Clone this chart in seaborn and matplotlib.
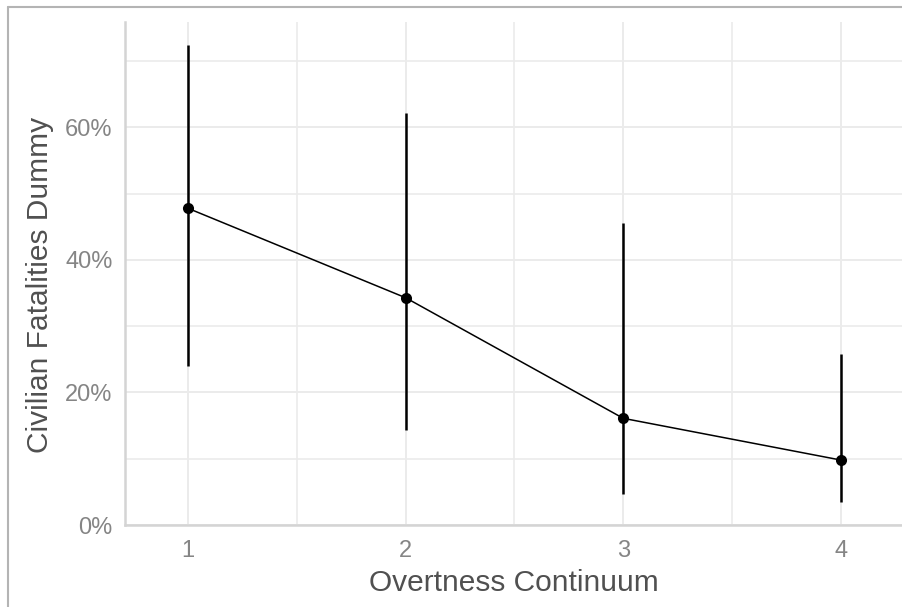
import matplotlib
matplotlib.use("Agg")
import matplotlib.pyplot as plt
import seaborn as sns
import pandas as pd
from matplotlib.ticker import FuncFormatter, MultipleLocator
from matplotlib.lines import Line2D

overtness = [1, 2, 3, 4]
fatality_mean = [0.478, 0.343, 0.161, 0.098]
fatality_low = [0.240, 0.143, 0.047, 0.035]
fatality_high = [0.725, 0.622, 0.456, 0.258]

df = pd.DataFrame({"x": overtness, "y": fatality_mean,
                   "lo": fatality_low, "hi": fatality_high})

sns.set_theme(style="white")
plt.rcParams["font.family"] = ["Liberation Sans", "DejaVu Sans"]

fig = plt.figure(figsize=(9.02, 6.07), dpi=100)
ax = fig.add_axes([125/902, 82/607, 777/902, 503/607])

# grid
ax.set_axisbelow(True)
ax.xaxis.set_major_locator(MultipleLocator(1))
ax.xaxis.set_minor_locator(MultipleLocator(0.5))
ax.yaxis.set_major_locator(MultipleLocator(0.2))
ax.yaxis.set_minor_locator(MultipleLocator(0.1))
ax.grid(which="major", color="#ebebeb", linewidth=1.4)
ax.grid(which="minor", color="#ebebeb", linewidth=1.2)

ax.vlines(df["x"], df["lo"], df["hi"], color="black", linewidth=1.8, zorder=3)
sns.lineplot(data=df, x="x", y="y", color="black", linewidth=1.1,
             marker="o", markersize=8, markeredgewidth=0, ax=ax, zorder=4)

ax.set_xlim(0.7106, 4.2805)
ax.set_ylim(0, 0.7592)
ax.set_xticks(overtness)
ax.set_yticks([0, 0.2, 0.4, 0.6])
ax.yaxis.set_major_formatter(FuncFormatter(lambda v, p: f"{v*100:.0f}%"))

for s in ["top", "right"]:
    ax.spines[s].set_visible(False)
for s in ["left", "bottom"]:
    ax.spines[s].set_color("#d4d4d4")
    ax.spines[s].set_linewidth(1.8)

ax.tick_params(axis="both", which="both", length=0, labelsize=17,
               labelcolor="#858585")
ax.tick_params(axis="x", pad=11)
ax.tick_params(axis="y", pad=9)

ax.set_xlabel("Overtness Continuum", fontsize=21.5, color="#505050")
ax.set_ylabel("Civilian Fatalities Dummy", fontsize=21.5, color="#505050")
ax.xaxis.set_label_coords(0.5, -0.1153)
ax.xaxis.label.set_va("center")
ax.yaxis.set_label_coords(-0.1094, 0.477)
ax.yaxis.label.set_va("center")

# screenshot border
fig.add_artist(Line2D([8/902, 8/902], [0, 1 - 7/607], transform=fig.transFigure,
                      color="#b4b4b4", linewidth=1.5))
fig.add_artist(Line2D([8/902, 1], [1 - 7/607, 1 - 7/607], transform=fig.transFigure,
                      color="#b4b4b4", linewidth=1.5))

fig.savefig("out.png", dpi=100)
